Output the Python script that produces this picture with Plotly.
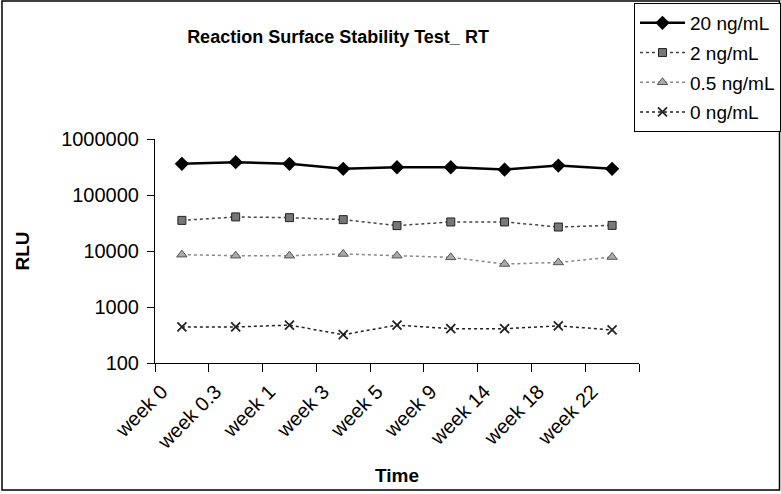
import plotly.graph_objects as go

# Reaction surface stability at room temperature
weeks = ["week 0", "week 0.3", "week 1", "week 3", "week 5",
         "week 9", "week 14", "week 18", "week 22"]
rlu_20 = [360000, 385000, 360000, 293000, 313000, 313000, 285000, 336000, 293000]
rlu_2 = [35200, 40600, 39400, 36300, 28400, 33000, 33000, 26800, 28700]
rlu_05 = [8600, 8250, 8250, 8850, 8250, 7700, 5850, 6250, 7800]
rlu_0 = [440, 440, 475, 320, 475, 410, 410, 460, 390]

font = "Arial, Liberation Sans, sans-serif"

fig = go.Figure()
fig.add_trace(go.Scatter(
    x=weeks, y=rlu_20, name="20 ng/mL", mode="lines+markers", legendgroup="a",
    line=dict(color="black", width=2.5),
    marker=dict(symbol="diamond", size=11, color="black")))
fig.add_trace(go.Scatter(
    x=weeks, y=rlu_2, name="2 ng/mL", mode="lines+markers", legendgroup="b",
    line=dict(color="#444444", width=1.5, dash="dot"),
    marker=dict(symbol="square", size=8, color="#777777",
                line=dict(color="#222222", width=1))))
fig.add_trace(go.Scatter(
    x=weeks, y=rlu_05, name="0.5 ng/mL", mode="lines+markers", legendgroup="c",
    line=dict(color="#888888", width=1.5, dash="dot"),
    marker=dict(symbol="triangle-up", size=9, color="#aaaaaa",
                line=dict(color="#555555", width=1))))
fig.add_trace(go.Scatter(
    x=weeks, y=rlu_0, name="0 ng/mL", mode="lines+markers", legendgroup="d",
    line=dict(color="#222222", width=1.5, dash="dot"),
    marker=dict(symbol="x-thin-open", size=9,
                line=dict(color="#222222", width=1.8))))

W, H = 781, 494
L, R, T, B = 155, 142, 139, 131
pw, ph = W - L - R, H - T - B

fig.update_layout(
    width=W, height=H,
    margin=dict(l=L, r=R, t=T, b=B, autoexpand=False),
    paper_bgcolor="white", plot_bgcolor="white",
    font=dict(family=font, size=20, color="black"),
    title=dict(text="<b>Reaction Surface Stability Test_ RT</b>",
               x=338 / W, xanchor="center", y=1 - 37 / H, yanchor="middle",
               font=dict(size=18)),
    showlegend=True,
    legend=dict(xref="container", yref="container",
                x=634 / W, y=1 - 3 / H, xanchor="left", yanchor="top",
                bordercolor="black", borderwidth=1, bgcolor="white",
                font=dict(size=19), tracegroupgap=2, itemwidth=45),
    xaxis=dict(type="category", range=[-0.5, 8.5], tickson="boundaries",
               ticks="outside", ticklen=8, tickcolor="black",
               tickangle=-45, ticklabelstandoff=8, ticklabelshift=-20,
               showgrid=False, zeroline=False,
               showline=True, linecolor="black", linewidth=1,
               title=dict(text="<b>Time</b>", font=dict(size=19), standoff=16)),
    yaxis=dict(type="log", range=[2, 6], dtick=1, tickformat="d",
               ticks="outside", ticklen=7, tickcolor="black",
               ticklabelstandoff=4, showgrid=False, zeroline=False,
               showline=True, linecolor="black", linewidth=1,
               title=dict(text="<b>RLU</b>", font=dict(size=19), standoff=26)),
)

# outer chart border
fig.add_shape(type="rect", xref="paper", yref="paper",
              x0=(2 - L) / pw, x1=(W - 1.5 - L) / pw,
              y0=-(B - 4) / ph, y1=1 + (T - 1) / ph,
              line=dict(color="black", width=1.5), layer="below")

fig.write_html("out.html", config={"displayModeBar": False},
               post_script="document.body.style.margin='0';")
